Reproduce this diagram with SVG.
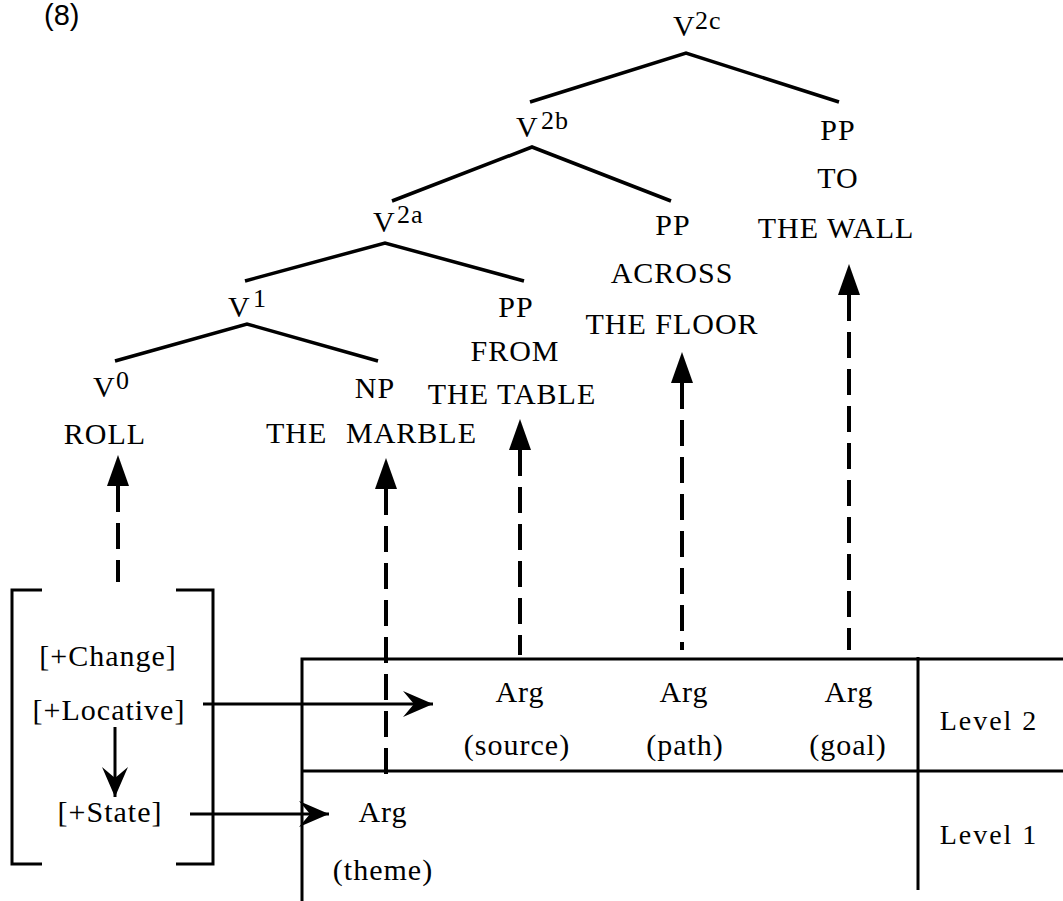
<svg xmlns="http://www.w3.org/2000/svg" width="1063" height="901" viewBox="0 0 1063 901">
<style>
.t{font-family:"Liberation Serif","Times New Roman",serif;font-size:30px;letter-spacing:1px;fill:#000}
.m{text-anchor:middle}
.sup{font-size:26px}
.lv{font-family:"Liberation Serif","Times New Roman",serif;font-size:28px;letter-spacing:2px;fill:#000;text-anchor:middle}
.num{font-family:"Liberation Sans",Arial,sans-serif;font-size:29px;fill:#000}
.edge{fill:none;stroke:#000;stroke-width:3.5;stroke-linecap:butt}
.dash{fill:none;stroke:#000;stroke-width:4;stroke-dasharray:26 11}
.solid{fill:none;stroke:#000;stroke-width:3}
.box{fill:none;stroke:#000;stroke-width:3}
</style>
<defs>
<marker id="up" markerUnits="userSpaceOnUse" markerWidth="32" markerHeight="22" viewBox="0 0 32 22" refX="0" refY="11" orient="auto-start-reverse">
<path d="M0,0 L31,11 L0,22 z" fill="#000"/>
</marker>
<marker id="stealth" markerUnits="userSpaceOnUse" markerWidth="30" markerHeight="26" viewBox="0 0 30 26" refX="30" refY="13" orient="auto">
<path d="M0,0 L30,13 L0,26 L11,13 z" fill="#000"/>
</marker>
</defs>
<rect width="1063" height="901" fill="#fff"/>
<text class="num" x="44" y="25">(8)</text>

<g id="connectors">
<polyline class="edge" points="530,102 686,53 839,102"/>
<polyline class="edge" points="392,201 532,147 671,201"/>
<polyline class="edge" points="245,281 385,243 524,281"/>
<polyline class="edge" points="115,361 247,324 378,361"/>
<path class="dash" d="M118,486 L118,582" marker-start="url(#up)"/>
<path class="dash" d="M386,489 L386,777" marker-start="url(#up)"/>
<path class="dash" d="M520,450 L520,655" marker-start="url(#up)"/>
<path class="dash" d="M682,383 L682,650" marker-start="url(#up)"/>
<path class="dash" d="M849,295 L849,650" marker-start="url(#up)"/>
<path class="solid" d="M203,704 L433,704" marker-end="url(#stealth)"/>
<path class="solid" d="M190,814 L329,814" marker-end="url(#stealth)"/>
<path class="solid" d="M115,727 L115,797" marker-end="url(#stealth)"/>
</g>

<g id="n-v2c"><text class="t" x="673" y="36">V<tspan class="sup" x="695" y="29">2c</tspan></text></g>
<g id="n-pp-wall">
<text class="t m" x="838" y="140">PP</text>
<text class="t m" x="838" y="188">TO</text>
<text class="t m" x="836" y="238">THE WALL</text>
</g>
<g id="n-v2b"><text class="t" x="516" y="137">V<tspan class="sup" x="541" y="129">2b</tspan></text></g>
<g id="n-pp-floor">
<text class="t m" x="673" y="235">PP</text>
<text class="t m" x="672" y="283">ACROSS</text>
<text class="t m" x="672" y="334">THE FLOOR</text>
</g>
<g id="n-v2a"><text class="t" x="373" y="232">V<tspan class="sup" x="397" y="223">2a</tspan></text></g>
<g id="n-pp-table">
<text class="t m" x="516" y="317">PP</text>
<text class="t m" x="515" y="361">FROM</text>
<text class="t m" x="512" y="404">THE TABLE</text>
</g>
<g id="n-v1"><text class="t" x="228" y="317">V<tspan class="sup" x="253" y="307">1</tspan></text></g>
<g id="n-np">
<text class="t m" x="375" y="398">NP</text>
<text class="t" x="266" y="443">THE<tspan x="346">MARBLE</tspan></text>
</g>
<g id="n-v0">
<text class="t" x="93" y="397">V<tspan class="sup" x="116" y="389">0</tspan></text>
<text class="t m" x="105" y="444">ROLL</text>
</g>

<g id="features">
<path class="box" d="M42,590 H12 V864 H42"/>
<path class="box" d="M176,590 H213 V864 H176"/>
<text class="t m" x="108" y="666">[+Change]</text>
<text class="t m" x="109" y="720">[+Locative]</text>
<text class="t m" x="110" y="822">[+State]</text>
</g>

<g id="levels-table">
<path class="box" d="M302,901 V659 H1063"/>
<path class="box" d="M302,771 H1063"/>
<path class="box" d="M918,657 V890"/>
<text class="lv" x="989" y="730">Level 2</text>
<text class="lv" x="989" y="844">Level 1</text>
</g>
<g id="arg-source">
<text class="t m" x="520" y="702">Arg</text>
<text class="t m" x="517" y="755">(source)</text>
</g>
<g id="arg-path">
<text class="t m" x="684" y="702">Arg</text>
<text class="t m" x="685" y="755">(path)</text>
</g>
<g id="arg-goal">
<text class="t m" x="849" y="702">Arg</text>
<text class="t m" x="848" y="755">(goal)</text>
</g>
<g id="arg-theme">
<text class="t m" x="383" y="822">Arg</text>
<text class="t m" x="383" y="880">(theme)</text>
</g>
</svg>
